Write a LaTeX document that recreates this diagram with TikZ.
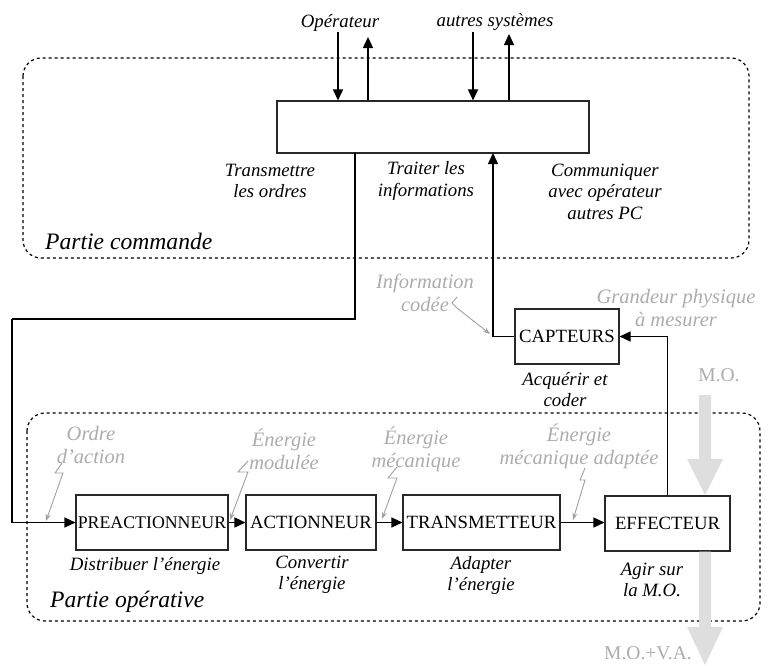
\documentclass[tikz,border=0pt]{standalone}
\usepackage{fontspec}
\setmainfont{Liberation Serif}
\usetikzlibrary{arrows.meta}

\definecolor{softgray}{RGB}{172,172,172}
\definecolor{linegray}{RGB}{160,160,160}
\definecolor{flowgray}{RGB}{222,222,222}
\definecolor{boxline}{RGB}{40,40,40}

\newcommand{\rolefont}{\fontsize{18.8}{21.5}\selectfont\itshape}
\newcommand{\fluxfont}{\fontsize{20.5}{23}\selectfont\itshape}
\newcommand{\blockfont}{\fontsize{18.7}{22}\selectfont}
\newcommand{\zonefont}{\fontsize{23.6}{26}\selectfont\itshape}

\tikzset{
  block/.style={draw=boxline, line width=1.1pt, fill=white, inner sep=0pt,
    minimum height=55pt, font=\blockfont},
  flow/.style={line width=1.3pt, -{Triangle[length=11pt,width=10pt]}},
  wire/.style={line width=1.3pt},
  zone/.style={draw, line width=1.2pt, dash pattern=on 3pt off 3pt, rounded corners=18pt},
  role/.style={font=\rolefont, align=center, inner sep=0pt},
  flux/.style={font=\fluxfont, text=softgray, align=center, inner sep=0pt},
  matterlbl/.style={font=\fontsize{19.5}{22}\selectfont, text=softgray, inner sep=0pt},
  zonelbl/.style={font=\zonefont, inner sep=0pt, anchor=west},
  spark/.style={draw=linegray, line width=0.9pt, -{Stealth[length=7pt,width=5pt]}},
  matter/.style={fill=flowgray, draw=none}
}

\begin{document}
\begin{tikzpicture}[x=1pt,y=-1pt]
\useasboundingbox (0,0) rectangle (768,665);

% dashed zones
\draw[zone] (23,58) rectangle (749,258);
\draw[zone] (27,413) rectangle (760,621);
\node[zonelbl] (zcmd) at (45,241.5) {Partie commande};
\node[zonelbl] (zop) at (50,601.5) {Partie opérative};

% ---- command part ----
\node[draw=boxline, line width=1.1pt, fill=white, minimum width=312pt,
      minimum height=52pt, inner sep=0pt] (PC) at (433,127) {};

\node[role] (op) at (340,23) {Opérateur};
\node[role] (sys) at (495,22) {autres systèmes};
\coordinate (opIn) at (338,32);
\coordinate (opOut) at (368,37);
\coordinate (sysIn) at (473,32);
\coordinate (sysOut) at (509,34);
\draw[flow] (opIn) -- (opIn |- PC.north);
\draw[flow] (opOut |- PC.north) -- (opOut);
\draw[flow] (sysIn) -- (sysIn |- PC.north);
\draw[flow] (sysOut |- PC.north) -- (sysOut);

\node[role] (tr) at (270,181) {Transmettre\\les ordres};
\node[role] (ti) at (426,181) {Traiter les\\informations};
\node[role] (co) at (605,191.5) {Communiquer\\avec opérateur\\autres PC};

% ---- operative part ----
\node[block, minimum width=104pt] (CAP) at (567,336.5) {CAPTEURS};
\node[block, minimum width=152pt, font=\fontsize{17.8}{22}\selectfont] (PRE) at (152,522.5) {PREACTIONNEUR};
\node[block, minimum width=130pt] (ACT) at (311,522.5) {ACTIONNEUR};
\node[block, minimum width=157pt] (TRA) at (481.5,522.5) {TRANSMETTEUR};
\node[block, minimum width=125pt] (EFF) at (667.5,523.5) {EFFECTEUR};

\node[role] (acq) at (565,389.5) {Acquérir et\\coder};
\node[role] (dis) at (145,566) {Distribuer l’énergie};
\node[role] (cnv) at (312,575) {Convertir\\l’énergie};
\node[role] (adp) at (481,575.5) {Adapter\\l’énergie};
\node[role] (agi) at (652,580) {Agir sur\\la M.O.};

% orders from the command part
\coordinate (pcOut) at (355,153);
\coordinate (bendL) at (12,319);
\draw[wire] (pcOut) |- (bendL);
\draw[flow] (bendL) |- (PRE.west);

% energy chain
\draw[flow] (PRE.east) -- (ACT.west);
\draw[flow] (ACT.east) -- (TRA.west);
\draw[flow] (TRA.east) -- (TRA.east -| EFF.west);

% measurement loop
\coordinate (pcIn) at (493,153);
\draw[flow] (EFF.north) |- (CAP.east);
\draw[flow] (CAP.west) -| (pcIn);

% matter flow
\draw[matter] (699,395) -- (711,395) -- (711,459) -- (723,459) -- (705,495)
  -- (687,459) -- (699,459) -- cycle;
\draw[matter] (699,551.5) -- (711,551.5) -- (711,627) -- (723,627) -- (705,665)
  -- (687,627) -- (699,627) -- cycle;
\node[matterlbl] (mo) at (719,375) {M.O.};
\node[matterlbl] (mova) at (648,653) {M.O.+V.A.};

% flow descriptions
\node[flux] (fOrd) at (91,445) {Ordre\\d’action};
\node[flux] (fMod) at (284,449) {Énergie\\modulée};
\node[flux] (fMec) at (416,449) {Énergie\\mécanique};
\node[flux] (fAda) at (579,446.5) {Énergie\\mécanique adaptée};
\node[flux] (fInf) at (425,292.5) {Information\\codée};
\node[flux] (fGra) at (676,307.5) {Grandeur physique\\à mesurer};

\coordinate (sOrd) at (62,463);
\coordinate (tOrd) at (46,521);
\draw[spark] (sOrd) -- (55,473) -- (63,473) -- (tOrd);
\coordinate (sMod) at (248,461);
\coordinate (tMod) at (230,520);
\draw[spark] (sMod) -- (238,472) -- (248,472) -- (tMod);
\coordinate (sMec) at (397,467);
\coordinate (tMec) at (382,519);
\draw[spark] (sMec) -- (388,478) -- (397,478) -- (tMec);
\coordinate (sAda) at (585,468);
\coordinate (tAda) at (573,520);
\draw[spark] (sAda) -- (580,480) -- (585,480) -- (tAda);
\coordinate (sInf) at (457,297);
\coordinate (tInf) at (490,334);
\draw[spark] (sInf) -- (452,303) -- (457,308) -- (tInf);
\end{tikzpicture}
\end{document}
